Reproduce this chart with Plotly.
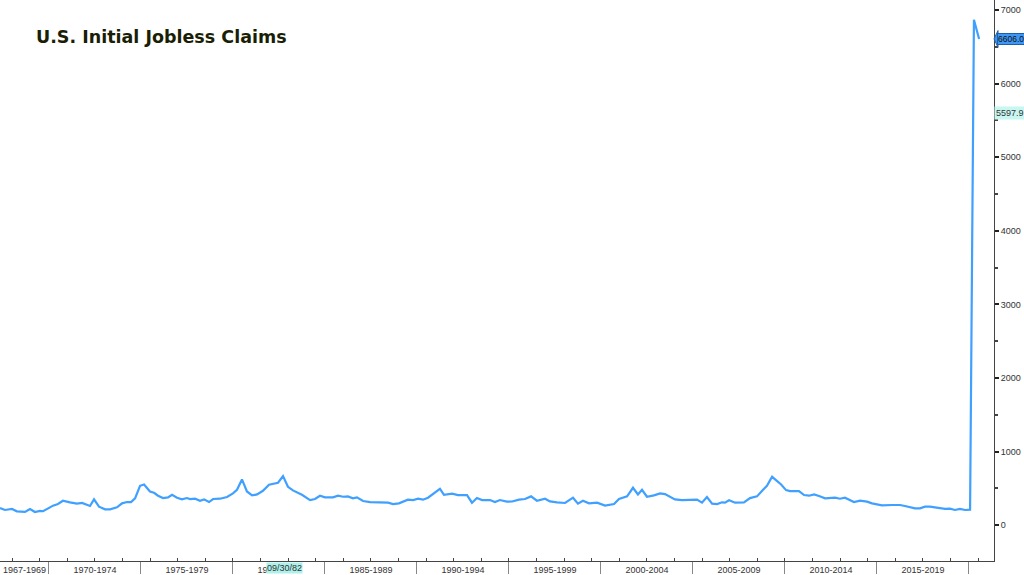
import plotly.graph_objects as go

# Decimal-year positions and weekly initial claims (thousands)
years = [1967.34, 1967.61, 1967.99, 1968.26, 1968.70, 1968.97, 1969.24, 1969.51, 1969.68,
         1970.22, 1970.49, 1970.76, 1971.14, 1971.52, 1971.80, 1972.23, 1972.45, 1972.72,
         1973.05, 1973.32, 1973.70, 1973.97, 1974.24, 1974.46, 1974.68, 1974.95, 1975.17,
         1975.49, 1975.71, 1975.93, 1976.20, 1976.47, 1976.69, 1976.96, 1977.23, 1977.50,
         1977.67, 1977.94, 1978.21, 1978.43, 1978.70, 1978.92, 1979.30, 1979.68, 1980.00,
         1980.22, 1980.49, 1980.76, 1981.04, 1981.31, 1981.63, 1981.96, 1982.45, 1982.72,
         1982.99, 1983.26, 1983.75, 1984.19, 1984.46, 1984.73, 1985.00, 1985.44, 1985.71,
         1985.98, 1986.25, 1986.52, 1986.74, 1987.07, 1987.45, 1987.88, 1988.16, 1988.43,
         1988.70, 1989.02, 1989.51, 1989.79, 1990.06, 1990.33, 1990.60, 1991.25, 1991.47,
         1991.91, 1992.23, 1992.72, 1992.99, 1993.26, 1993.54, 1993.97, 1994.24, 1994.51,
         1994.89, 1995.17, 1995.55, 1995.87, 1996.20, 1996.52, 1996.96, 1997.23, 1997.61,
         1998.05, 1998.48, 1998.75, 1999.02, 1999.35, 1999.79, 2000.22, 2000.71, 2000.98,
         2001.42, 2001.74, 2002.01, 2002.23, 2002.50, 2002.88, 2003.21, 2003.48, 2004.02,
         2004.41, 2005.22, 2005.49, 2005.76, 2006.04, 2006.31, 2006.58, 2006.74, 2006.96,
         2007.29, 2007.77, 2008.10, 2008.48, 2008.81, 2009.02, 2009.30, 2009.57, 2009.79,
         2010.06, 2010.27, 2010.76, 2011.04, 2011.31, 2011.58, 2011.85, 2012.18, 2012.72,
         2012.99, 2013.26, 2013.75, 2014.08, 2014.46, 2014.73, 2015.27, 2015.82, 2016.25,
         2016.52, 2017.07, 2017.34, 2017.61, 2017.88, 2018.26, 2018.70, 2018.97, 2019.24,
         2019.51, 2019.79, 2020.06, 2020.17, 2020.27, 2020.55]
claims = [234, 207, 221, 189, 180, 221, 180, 194, 190,
          266, 288, 333, 310, 293, 302, 261, 351, 252,
          216, 216, 243, 297, 315, 315, 365, 536, 554,
          459, 441, 401, 369, 378, 414, 374, 351, 369,
          356, 360, 333, 351, 315, 356, 360, 383, 432,
          482, 622, 459, 405, 419, 468, 550, 577, 667,
          522, 473, 414, 342, 356, 401, 378, 378, 401,
          387, 392, 365, 378, 329, 315, 311, 302, 306,
          288, 297, 347, 342, 360, 347, 374, 495, 414,
          428, 410, 410, 306, 369, 342, 342, 315, 342,
          320, 322, 347, 356, 392, 333, 360, 324, 311,
          302, 374, 293, 333, 297, 306, 266, 288, 356,
          392, 509, 419, 482, 387, 405, 432, 423, 351,
          342, 347, 306, 383, 293, 288, 311, 306, 338,
          306, 311, 369, 392, 482, 536, 658, 595, 554,
          477, 464, 464, 410, 401, 419, 396, 365, 374,
          360, 374, 315, 333, 320, 297, 270, 275, 275,
          261, 230, 230, 252, 252, 239, 221, 225, 207,
          221, 207, 211, 3307, 6867, 6606]

period_labels = ["1967-1969", "1970-1974", "1975-1979", "1980-1984", "1985-1989",
                 "1990-1994", "1995-1999", "2000-2004", "2005-2009", "2010-2014", "2015-2019"]
period_centers = [1968.67, 1972.5, 1977.5, 1982.5, 1987.5, 1992.5, 1997.5, 2002.5,
                  2007.5, 2012.5, 2017.5]
period_bounds = [1970, 1975, 1980, 1985, 1990, 1995, 2000, 2005, 2010, 2015, 2020]

last_value = 6606.0
avg_value = 5597.9
cursor_label = "09/30/82"
cursor_year = 1982.8

x_range = [1967.34, 2021.36]
y_range = [-486, 7135]

fig = go.Figure()
fig.add_trace(go.Scatter(x=years, y=claims, mode="lines",
                         line=dict(color="#3fa0ff", width=2.2),
                         hoverinfo="skip", showlegend=False))
fig.add_trace(go.Scatter(x=[], y=[], xaxis="x2", showlegend=False))

fig.update_layout(
    width=1024, height=575,
    margin=dict(l=0, r=30, t=0, b=11),
    paper_bgcolor="white", plot_bgcolor="white",
    font=dict(family="Liberation Sans", size=9, color="#333"),
    xaxis=dict(range=x_range, showgrid=False, zeroline=False,
               showline=True, linecolor="#444", linewidth=1,
               tickmode="array", tickvals=period_centers, ticktext=period_labels,
               ticks="", ticklabelstandoff=0,
               tickfont=dict(family="Liberation Sans", size=9, color="#333"),
               minor=dict(tickmode="array", tickvals=period_bounds, ticks="outside",
                          ticklen=12, tickcolor="#888", tickwidth=1)),
    xaxis2=dict(range=x_range, overlaying="x", side="bottom", showgrid=False,
                zeroline=False, showticklabels=False, ticks="inside", ticklen=3,
                tickcolor="#444", tick0=1971, dtick=1.5, showline=False),
    yaxis=dict(range=y_range, side="right", showgrid=False, zeroline=False,
               showline=True, linecolor="#444", linewidth=1,
               tickvals=[0, 1000, 2000, 3000, 4000, 5000, 6000, 7000],
               ticks="outside", ticklen=4, tickwidth=2, tickcolor="#222",
               tickfont=dict(family="Liberation Sans", size=9, color="#333"),
               minor=dict(dtick=500, ticks="outside", ticklen=3, tickcolor="#444")),
    annotations=[
        dict(text="<b>U.S. Initial Jobless Claims</b>", xref="paper", yref="paper",
             x=0.034, y=0.934, xanchor="left", yanchor="middle", showarrow=False,
             font=dict(family="DejaVu Sans", size=17.5, color="#1a1e05")),
        dict(text=f"{last_value:.1f}", xref="paper", yref="y", x=1.0, y=last_value,
             xanchor="left", yanchor="middle", showarrow=False, xshift=3,
             bgcolor="#3d97f5", bordercolor="#1f5fa8", borderwidth=1, borderpad=0,
             font=dict(family="Liberation Sans", size=8.5, color="#111")),
        dict(text=f"{avg_value:.1f}", xref="paper", yref="y", x=1.0, y=avg_value,
             xanchor="left", yanchor="middle", showarrow=False, xshift=0,
             bgcolor="#c8f7f2", borderpad=1,
             font=dict(family="Liberation Sans", size=9, color="#333")),
        dict(text=cursor_label, xref="x", yref="paper", x=cursor_year, y=0,
             xanchor="center", yanchor="top", showarrow=False, yshift=-1,
             bgcolor="#aef0ea", borderpad=0,
             font=dict(family="Liberation Sans", size=9, color="#333")),
    ],
    shapes=[
        dict(type="path", xref="paper", yref="y", xsizemode="pixel", xanchor=1.0,
             path="M 0 6606 L 4 6720 L 4 6492 Z", fillcolor="#3d97f5",
             line=dict(color="#1f5fa8", width=1)),
    ],
)

fig.write_html("out.html", config={"displayModeBar": False},
               post_script="document.body.style.margin='0';document.body.style.padding='0';")
